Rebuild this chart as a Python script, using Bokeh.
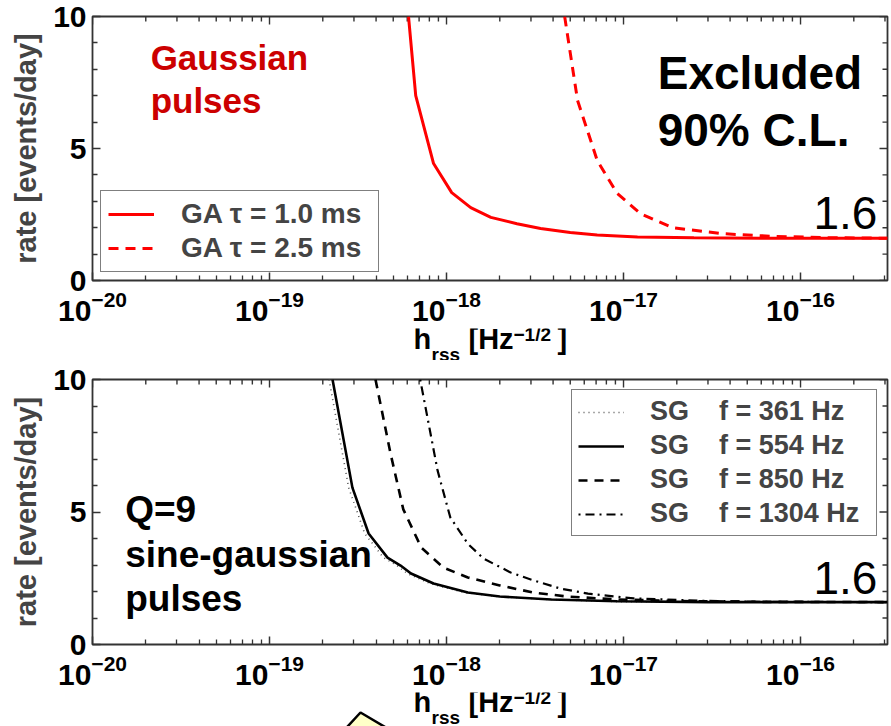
import math

from bokeh.plotting import figure
from bokeh.layouts import column
from bokeh.models import (FixedTicker, LogTickFormatter, Label, Legend,
                          LegendItem, Range1d, ColumnDataSource)
from bokeh.core.properties import value
from bokeh.embed import file_html
from bokeh.resources import INLINE

FONT = "Liberation Sans"

# ---- axes ----
h_min, h_max = 1e-20, 3.1e-16
x_major = [1e-20, 1e-19, 1e-18, 1e-17, 1e-16]
x_minor = [m * 10.0 ** e for e in range(-20, -15) for m in range(2, 10)
           if m * 10.0 ** e < h_max]
y_major = [0, 5, 10]
y_minor = [1, 2, 3, 4, 6, 7, 8, 9]

# ---- Gaussian pulses: rate upper limit vs h_rss ----
ga10_h = [6.1e-19, 6.7e-19, 8.45e-19, 1.07e-18, 1.37e-18, 1.78e-18, 2.5e-18,
          3.4e-18, 5e-18, 7.1e-18, 1.2e-17, 2.5e-17, 6e-17, 1.5e-16, 3.1e-16]
ga10_rate = [10, 7.0, 4.43, 3.33, 2.76, 2.39, 2.15,
             1.97, 1.82, 1.72, 1.65, 1.62, 1.6, 1.6, 1.6]

ga25_h = [4.65e-18, 5.5e-18, 7.1e-18, 9.2e-18, 1.25e-17, 1.9e-17, 3.7e-17,
          7.1e-17, 1.5e-16, 3.1e-16]
ga25_rate = [10, 6.82, 4.55, 3.3, 2.53, 2.0, 1.77, 1.67, 1.62, 1.6]

# ---- Q=9 sine-gaussian pulses ----
sg361_h = [2.17e-19, 2.8e-19, 3.45e-19, 4.4e-19, 5.25e-19, 6.0e-19, 8.1e-19,
           1.27e-18, 1.95e-18, 3.8e-18, 9e-18, 3e-17, 3.1e-16]
sg361_rate = [10, 5.92, 4.19, 3.28, 2.98, 2.68, 2.3,
              1.96, 1.81, 1.7, 1.62, 1.6, 1.6]

sg554_h = [2.27e-19, 2.94e-19, 3.63e-19, 4.64e-19, 5.5e-19, 6.3e-19, 8.45e-19,
           1.32e-18, 2.0e-18, 3.9e-18, 9.2e-18, 3e-17, 3.1e-16]
sg554_rate = [10, 5.92, 4.19, 3.28, 2.98, 2.68, 2.3,
              1.96, 1.81, 1.7, 1.63, 1.6, 1.6]

sg850_h = [3.97e-19, 4.83e-19, 5.7e-19, 7.2e-19, 9.6e-19, 1.32e-18, 2.0e-18,
           3.1e-18, 4.8e-18, 9.2e-18, 2e-17, 6e-17, 3.1e-16]
sg850_rate = [10, 7.2, 5.1, 3.66, 2.9, 2.53, 2.23,
              1.96, 1.81, 1.7, 1.64, 1.61, 1.6]

sg1304_h = [7.1e-19, 8.9e-19, 1.05e-18, 1.32e-18, 1.62e-18, 2.3e-18, 3.1e-18,
            4.4e-18, 6.3e-18, 1.14e-17, 2.7e-17, 6e-17, 3.1e-16]
sg1304_rate = [10, 6.57, 4.8, 3.8, 3.24, 2.72, 2.42,
               2.11, 1.92, 1.74, 1.65, 1.61, 1.6]

FRAME_COLOR = "#333333"
FRAME_LEFT, FRAME_W = 92, 795
PX_PER_UNIT = 26.4                                   # pixels per rate unit
PX_PER_DECADE = FRAME_W / math.log10(h_max / h_min)  # pixels per decade
BASELINE_LIFT = 0.38   # shift that puts the alphabetic baseline where asked
MAJOR_LEN, MINOR_LEN = 8, 5


def style_axis(ax):
    ax.axis_line_color = None
    ax.major_tick_in = MAJOR_LEN
    ax.major_tick_out = 0
    ax.minor_tick_in = MINOR_LEN
    ax.minor_tick_out = 0
    ax.major_tick_line_color = FRAME_COLOR
    ax.minor_tick_line_color = FRAME_COLOR
    ax.major_tick_line_width = 1.5
    ax.minor_tick_line_width = 1.3
    ax.major_label_text_font = FONT
    ax.major_label_text_font_size = "30px"
    ax.major_label_text_font_style = "bold"
    ax.major_label_text_color = "black"


def mirror_ticks(p):
    """Inward ticks along the top and right edges of the frame."""
    xs, ys = [], []
    for ticks, length in ((x_major, MAJOR_LEN), (x_minor, MINOR_LEN)):
        dy = length / PX_PER_UNIT
        for t in ticks:
            xs.append([t, t])
            ys.append([10, 10 - dy])
    for ticks, length in ((y_major, MAJOR_LEN), (y_minor, MINOR_LEN)):
        f = 10 ** (length / PX_PER_DECADE)
        for t in ticks:
            xs.append([h_max / f, h_max])
            ys.append([t, t])
    src = ColumnDataSource(data=dict(xs=xs, ys=ys))
    p.multi_line(xs="xs", ys="ys", source=src, line_color=FRAME_COLOR,
                 line_width=1.4)


def make_panel(border_top, frame_h):
    p = figure(frame_width=FRAME_W, frame_height=frame_h,
               x_axis_type="log",
               x_range=Range1d(h_min, h_max), y_range=Range1d(0, 10),
               min_border_left=FRAME_LEFT, min_border_right=4,
               min_border_top=border_top, min_border_bottom=48,
               output_backend="svg", toolbar_location=None)
    p.xgrid.visible = False
    p.ygrid.visible = False
    p.outline_line_color = FRAME_COLOR
    p.outline_line_width = 1.8

    xax = p.xaxis[0]
    xax.ticker = FixedTicker(ticks=x_major, minor_ticks=x_minor)
    xax.formatter = LogTickFormatter()
    xax.major_label_standoff = 10
    style_axis(xax)

    yax = p.yaxis[0]
    yax.ticker = FixedTicker(ticks=y_major, minor_ticks=y_minor)
    yax.major_label_standoff = 6
    style_axis(yax)
    yax.axis_label = "rate [events/day]"
    yax.axis_label_text_font = FONT
    yax.axis_label_text_font_size = "29px"
    yax.axis_label_text_font_style = "bold"
    yax.axis_label_standoff = 8

    mirror_ticks(p)
    return p


def text_label(p, x, y, text, size, color="black", style="bold", align="left"):
    lift = BASELINE_LIFT * size / PX_PER_UNIT
    p.add_layout(Label(x=x, y=y + lift, text=text, text_font=FONT,
                       text_font_size=f"{size}px", text_font_style=style,
                       text_color=color, text_baseline="alphabetic",
                       text_align=align))


def axis_title_strip(height, baseline, callout=False):
    """Strip under a panel holding the h_rss [Hz^-1/2] axis title.

    Its frame lines up with the panels' frames, and its x range is in page
    pixels so the title pieces can be set side by side."""
    s = figure(frame_width=FRAME_W, frame_height=height,
               x_range=Range1d(FRAME_LEFT, FRAME_LEFT + FRAME_W),
               y_range=Range1d(0, height),
               min_border_left=FRAME_LEFT, min_border_right=4,
               min_border_top=0, min_border_bottom=0,
               output_backend="svg", toolbar_location=None)
    s.axis.visible = False
    s.grid.visible = False
    s.outline_line_color = None
    if callout:
        s.patch([360, 404, 336], [height - 20, -12, -12],
                fill_color="#ffffc8", line_color="black", line_width=2.5)
    pieces = [(413, baseline, "h", 29),
              (431, baseline - 11, "rss", 19),
              (468, baseline, "[Hz", 29),
              (513, baseline + 9, "\u22121/2", 19),
              (557, baseline, "]", 29)]
    for x, y, t, size in pieces:
        s.text(x=[x], y=[y + BASELINE_LIFT * size], text=[t],
               text_font=value(FONT), text_font_size=f"{size}px",
               text_font_style="bold", text_color="black",
               text_baseline="alphabetic", text_align="left")
    return s


# ---------------- upper panel: Gaussian pulses ----------------
p1 = make_panel(16, 264)
r_ga10 = p1.line(ga10_h, ga10_rate, line_color="#ff0000", line_width=3)
r_ga25 = p1.line(ga25_h, ga25_rate, line_color="#ff0000", line_width=3,
                 line_dash="10 7")

leg1 = Legend(items=[LegendItem(label="GA \u03c4 = 1.0 ms", renderers=[r_ga10]),
                     LegendItem(label="GA \u03c4 = 2.5 ms", renderers=[r_ga25])],
              location="bottom_left", margin=8, padding=7, spacing=2,
              glyph_width=46, glyph_height=22, label_width=190,
              label_standoff=27,
              label_text_font=FONT, label_text_font_size="28px",
              label_text_font_style="bold", border_line_color="black",
              border_line_width=1.5, background_fill_color="white",
              background_fill_alpha=1.0)
p1.add_layout(leg1)

text_label(p1, 2.13e-20, 7.95, "Gaussian", 35, color="#cc0000")
text_label(p1, 2.13e-20, 6.33, "pulses", 35, color="#cc0000")
text_label(p1, 1.56e-17, 7.2, "Excluded", 46)
text_label(p1, 1.56e-17, 5.04, "90% C.L.", 46)
text_label(p1, 2.72e-16, 1.89, "1.6", 46, style="normal", align="right")

# ---------------- lower panel: sine-gaussian pulses ----------------
p2 = make_panel(19, 265)
r361 = p2.line(sg361_h, sg361_rate, line_color="#555555", line_width=1.6,
               line_dash="1 4")
r554 = p2.line(sg554_h, sg554_rate, line_color="black", line_width=2.6)
r850 = p2.line(sg850_h, sg850_rate, line_color="black", line_width=2.6,
               line_dash="9 7")
r1304 = p2.line(sg1304_h, sg1304_rate, line_color="black", line_width=2.2,
                line_dash="2 5 9 5")

gap = "\u00a0\u00a0\u00a0 "
leg2 = Legend(items=[LegendItem(label="SG" + gap + "f = 361 Hz", renderers=[r361]),
                     LegendItem(label="SG" + gap + "f = 554 Hz", renderers=[r554]),
                     LegendItem(label="SG" + gap + "f = 850 Hz", renderers=[r850]),
                     LegendItem(label="SG" + gap + "f = 1304 Hz", renderers=[r1304])],
              location="top_right", margin=10, padding=6, spacing=3,
              glyph_width=46, glyph_height=22, label_width=220,
              label_standoff=26,
              label_text_font=FONT, label_text_font_size="27px",
              label_text_font_style="bold", border_line_color="black",
              border_line_width=1.5, background_fill_color="white",
              background_fill_alpha=1.0)
p2.add_layout(leg2)

text_label(p2, 1.53e-20, 4.57, "Q=9", 37)
text_label(p2, 1.53e-20, 2.87, "sine-gaussian", 37)
text_label(p2, 1.53e-20, 1.21, "pulses", 37)
text_label(p2, 2.72e-16, 1.85, "1.6", 46, style="normal", align="right")

strip1 = axis_title_strip(32, 10)
strip2 = axis_title_strip(34, 13, callout=True)

layout = column(p1, strip1, p2, strip2, spacing=0)
open("out.html", "w").write(file_html(layout, INLINE))
